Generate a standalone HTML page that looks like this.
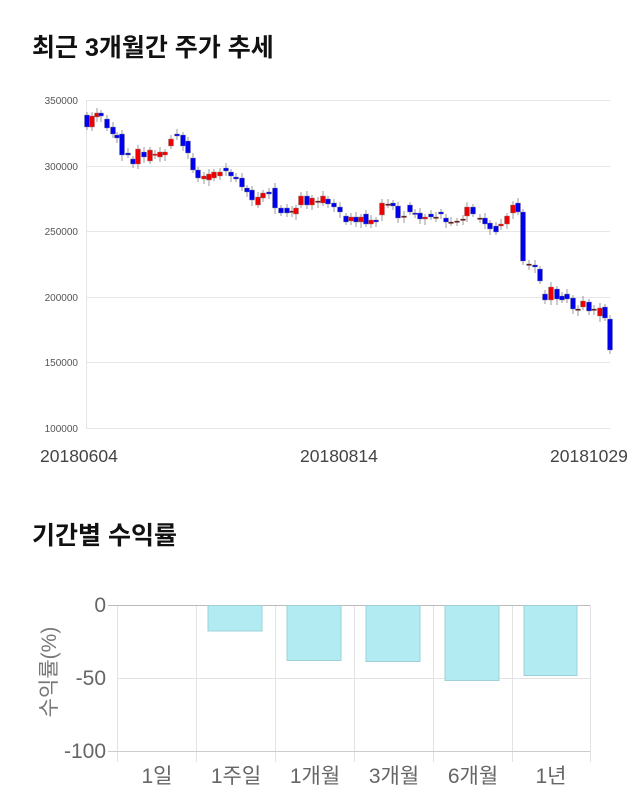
<!DOCTYPE html>
<html><head><meta charset="utf-8"><style>
body{margin:0;background:#fff;width:640px;height:810px;overflow:hidden}
svg{display:block}
</style></head><body>
<svg id="s" width="640" height="810" xmlns="http://www.w3.org/2000/svg" font-family="Liberation Sans, Noto Sans CJK KR, sans-serif">
<text x="32" y="56" font-size="25" font-weight="bold" fill="#111">최근 3개월간 주가 추세</text>
<g stroke="#e6e6e6" stroke-width="1">
<line x1="86" y1="100.5" x2="610" y2="100.5"/><line x1="86" y1="166.5" x2="610" y2="166.5"/>
<line x1="86" y1="231.5" x2="610" y2="231.5"/><line x1="86" y1="297.5" x2="610" y2="297.5"/>
<line x1="86" y1="362.5" x2="610" y2="362.5"/><line x1="86" y1="428.5" x2="610" y2="428.5"/>
<line x1="86.5" y1="100" x2="86.5" y2="428"/>
</g>
<g font-size="10" fill="#555" text-anchor="end">
<text x="78" y="104">350000</text><text x="78" y="170">300000</text><text x="78" y="235">250000</text>
<text x="78" y="301">200000</text><text x="78" y="366">150000</text><text x="78" y="432">100000</text>
</g>
<g font-size="17.5" fill="#444">
<text x="40" y="462">20180604</text><text x="300" y="462">20180814</text><text x="550" y="462">20181029</text>
</g>
<g id="c"></g>
<text x="32" y="544" font-size="25" font-weight="bold" fill="#111">기간별 수익률</text>
<g stroke="#e3e3e3"><line x1="117.5" y1="605" x2="117.5" y2="762"/><line x1="196.5" y1="605" x2="196.5" y2="762"/>
<line x1="275.5" y1="605" x2="275.5" y2="762"/><line x1="354.5" y1="605" x2="354.5" y2="762"/>
<line x1="433.5" y1="605" x2="433.5" y2="762"/><line x1="512.5" y1="605" x2="512.5" y2="762"/>
<line x1="590.5" y1="605" x2="590.5" y2="762"/>
<line x1="117" y1="678.5" x2="590" y2="678.5"/></g>
<line x1="108" y1="605.5" x2="590" y2="605.5" stroke="#bbb"/>
<line x1="108" y1="751.5" x2="590" y2="751.5" stroke="#ccc"/>
<g fill="#b2ebf2" stroke="#9fd0d8">
<rect x="208" y="605.5" width="54" height="25.5"/><rect x="287" y="605.5" width="54" height="55"/>
<rect x="366" y="605.5" width="54" height="56"/><rect x="445" y="605.5" width="54" height="75"/>
<rect x="524" y="605.5" width="53" height="70"/></g>
<g font-size="21" fill="#666" text-anchor="end">
<text x="106" y="612">0</text><text x="106" y="685">-50</text><text x="106" y="758">-100</text></g>
<text transform="translate(56,672) rotate(-90)" font-size="21" fill="#777" text-anchor="middle">수익률(%)</text>
<g font-size="21" fill="#666" text-anchor="middle">
<text x="157" y="783">1일</text><text x="236" y="783">1주일</text><text x="315" y="783">1개월</text>
<text x="394" y="783">3개월</text><text x="473" y="783">6개월</text><text x="551" y="783">1년</text></g>
</svg>
<script>
var d=[[87,'b',115,127],[92,'r',127,116],[97,'r',117,113],[101,'b',113,116],[107,'b',119,128],[113,'b',127,134],[117,'b',135,138],[122,'b',134,155],[128,'b',153,155],[133,'b',159,164],[138,'r',164,149],[144,'b',152,157],[150,'r',161,150],[155,'r',155,154],[160,'r',157,152],[165,'r',155,152],[171,'r',146,139],[177,'b',134,136],[183,'b',135,146],[188,'b',141,153],[193,'b',158,170],[198,'b',170,178],[204,'r',179,176],[209,'r',180,174],[214,'r',178,172],[220,'r',176,172],[226,'b',168,171],[231,'b',172,176],[236,'b',177,179],[242,'b',178,187],[247,'b',188,192],[252,'b',190,200],[258,'r',205,197],[263,'r',198,193],[269,'b',192,194],[275,'b',188,208],[281,'b',208,213],[287,'b',208,213],[292,'d',211,212],[296,'r',214,208],[301,'r',205,196],[307,'b',196,205],[312,'r',205,198],[318,'d',201,202],[323,'r',203,196],[328,'b',199,204],[334,'b',203,207],[340,'b',207,212],[346,'b',216,222],[351,'r',221,217],[356,'b',217,222],[361,'r',222,217],[366,'b',214,224],[371,'r',224,220],[376,'b',220,222],[382,'r',215,203],[388,'d',204,205],[393,'b',203,206],[398,'b',206,218],[404,'d',216,217],[410,'b',205,212],[415,'b',213,214],[420,'b',213,219],[425,'r',219,217],[431,'b',214,217],[436,'d',217,218],[441,'b',212,214],[446,'b',218,222],[451,'d',222,223],[457,'d',221,222],[463,'d',219,220],[467,'r',216,207],[473,'b',207,214],[480,'d',218,219],[485,'b',218,224],[490,'b',223,229],[496,'b',226,232],[501,'r',226,224],[507,'r',224,216],[513,'r',213,205],[518,'b',203,212],[523,'b',212,261],[529,'d',264,265],[535,'b',265,267],[540,'b',269,281],[545,'b',294,300],[551,'r',300,287],[557,'b',289,299],[562,'b',296,300],[567,'b',294,299],[573,'b',298,309],[578,'d',309,310],[583,'r',307,301],[589,'b',302,311],[594,'d',309,310],[600,'r',316,308],[605,'b',307,318],[610,'b',319,350]];
var g=document.getElementById('c'),h='';
var col={b:'#0000ee',r:'#ee0000',d:'#660000'};
d.forEach(function(e,i){var x=e[0],t=Math.min(e[2],e[3]),b=Math.max(e[2],e[3]);
var w1=t-3-(i%3),w2=b+3+(i%4);
h+='<line x1="'+x+'" y1="'+w1+'" x2="'+x+'" y2="'+w2+'" stroke="#999" stroke-width="1"/>';
h+='<rect x="'+(x-2.5)+'" y="'+t+'" width="5" height="'+Math.max(b-t,1.5)+'" fill="'+col[e[1]]+'" stroke="#888" stroke-width="0.4"/>';});
g.innerHTML=h;
</script>
</body></html>
